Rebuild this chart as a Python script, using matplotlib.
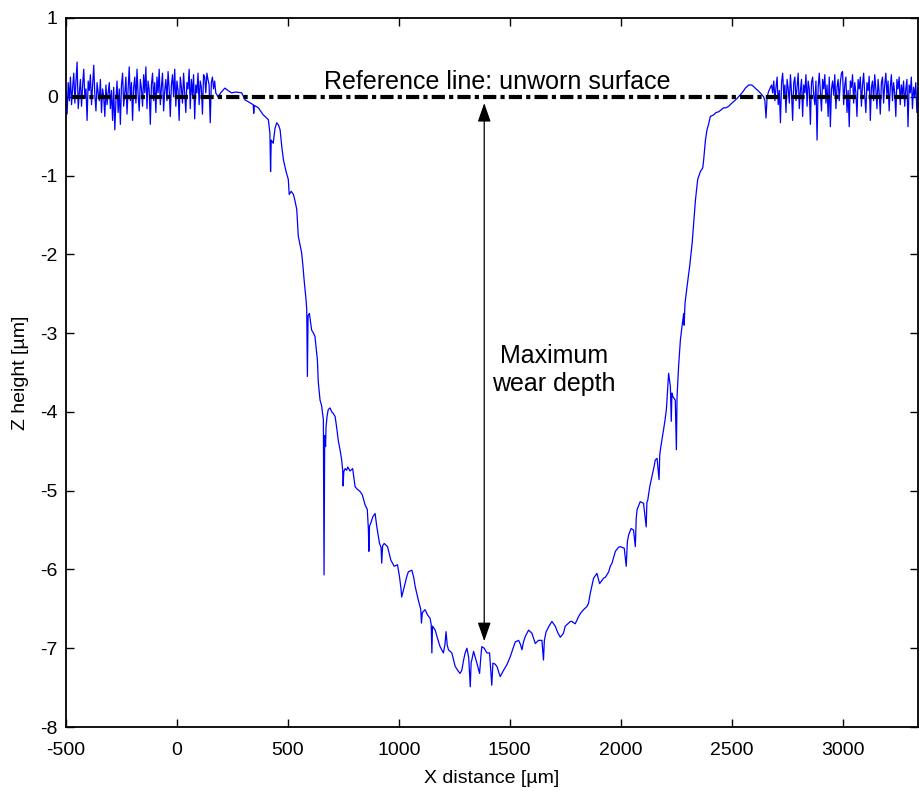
import numpy as np
import matplotlib
matplotlib.use("Agg")
import matplotlib.pyplot as plt

plt.rcParams['font.family'] = ['Liberation Sans', 'DejaVu Sans']
plt.rcParams['axes.unicode_minus'] = False
plt.rcParams['lines.scale_dashes'] = False

# ---- data ----
left_noise_x0, left_noise_step = -500, 5
left_noise_z = [
    0.05, -0.22, 0.18, -0.05, 0.25, -0.10, 0.12, 0.30, -0.08, 0.20,
    0.44, -0.15, 0.05, 0.22, -0.12, 0.15, 0.35, -0.02, 0.10, -0.30,
    0.20, 0.08, 0.28, -0.10, 0.15, 0.40, 0.02, -0.18, 0.18, 0.05,
    -0.05, 0.22, -0.20, 0.10, 0.00, -0.25, 0.15, -0.10, 0.05, 0.18,
    -0.15, 0.08, -0.30, 0.12, -0.42, -0.05, 0.20, -0.20, 0.10, -0.35,
    0.15, 0.30, -0.12, 0.05, 0.25, -0.22, 0.10, 0.38, -0.05, 0.18,
    -0.30, 0.12, 0.25, -0.08, 0.35, 0.02, -0.18, 0.22, 0.10, -0.12,
    0.28, 0.05, 0.38, -0.15, 0.20, 0.08, -0.35, 0.15, 0.30, -0.05,
    0.18, -0.20, 0.25, 0.05, 0.35, -0.10, 0.12, 0.30, -0.18, 0.08,
    0.22, -0.05, 0.32, 0.10, -0.25, 0.15, 0.28, 0.00, 0.35, -0.12,
    0.20, 0.08, -0.30, 0.25, 0.12, -0.08, 0.30, 0.05, -0.20, 0.18,
    0.10, 0.35, -0.15, 0.22, 0.02, 0.28, -0.28, 0.15, 0.05, 0.30,
    -0.10, 0.20, 0.12, -0.22, 0.28, 0.25, 0.05, 0.30, 0.22, 0.15,
    -0.33, 0.18, 0.25, 0.10, 0.20, 0.05,
]

scar_x = [
    185, 200, 216, 230, 246, 265, 292, 307, 320, 337, 344, 346, 349, 367, 389, 397,
    412, 419, 422, 425, 434, 442, 450, 458, 465, 472, 480, 492, 502, 506, 515, 525,
    532, 540, 547, 555, 562, 568, 573, 582, 585, 588, 591, 597, 607, 615, 622, 633,
    637, 645, 652, 660, 663, 666, 670, 672, 677, 682, 690, 698, 705, 713, 720, 727,
    735, 742, 747, 749, 752, 758, 765, 770, 780, 792, 803, 812, 825, 835, 848, 858,
    863, 865, 868, 874, 883, 893, 901, 913, 920, 923, 927, 934, 949, 957, 964, 979,
    994, 1003, 1010, 1013, 1021, 1028, 1036, 1043, 1059, 1067, 1074, 1088, 1099, 1102, 1106, 1118,
    1130, 1141, 1146, 1149, 1152, 1164, 1175, 1186, 1201, 1208, 1213, 1218, 1224, 1239, 1254, 1265,
    1276, 1284, 1292, 1299, 1307, 1315, 1322, 1326, 1329, 1337, 1345, 1352, 1364, 1370, 1374, 1385,
    1397, 1409, 1419, 1424, 1433, 1442, 1457, 1465, 1472, 1487, 1502, 1515, 1525, 1540, 1548, 1555,
    1562, 1570, 1585, 1600, 1615, 1630, 1645, 1652, 1656, 1664, 1677, 1690, 1705, 1716, 1728, 1742,
    1750, 1758, 1773, 1780, 1795, 1810, 1818, 1833, 1848, 1855, 1863, 1878, 1893, 1905, 1915, 1923,
    1931, 1946, 1953, 1961, 1976, 1990, 1998, 2016, 2025, 2030, 2036, 2047, 2058, 2066, 2070, 2074,
    2088, 2103, 2115, 2118, 2122, 2131, 2141, 2150, 2156, 2164, 2173, 2176, 2179, 2186, 2193, 2200,
    2206, 2212, 2216, 2220, 2224, 2228, 2231, 2236, 2246, 2251, 2254, 2257, 2261, 2266, 2269, 2277,
    2284, 2286, 2290, 2299, 2311, 2322, 2329, 2337, 2347, 2359, 2366, 2370, 2374, 2382, 2389, 2396,
    2404, 2419, 2430, 2442, 2455, 2464, 2475, 2487, 2494, 2509, 2525, 2547, 2562, 2577, 2590, 2599,
    2610, 2622, 2635, 2644, 2650, 2655, 2660, 2667, 2675,
]
scar_z = [
    0.00, 0.06, 0.11, 0.08, 0.05, 0.06, 0.05, -0.04, -0.06, -0.09, -0.10, -0.21, -0.11, -0.14, -0.23, -0.25,
    -0.29, -0.46, -0.95, -0.55, -0.59, -0.40, -0.33, -0.36, -0.42, -0.62, -0.80, -0.95, -1.05, -1.24, -1.20, -1.24,
    -1.32, -1.43, -1.77, -1.88, -1.98, -2.15, -2.32, -2.58, -2.70, -3.55, -2.78, -2.75, -2.96, -3.00, -3.04, -3.34,
    -3.62, -3.85, -3.92, -4.10, -6.07, -4.30, -4.44, -4.19, -4.05, -3.97, -3.95, -4.00, -4.02, -4.06, -4.20, -4.36,
    -4.48, -4.60, -4.74, -4.94, -4.76, -4.72, -4.74, -4.70, -4.75, -4.72, -4.95, -4.98, -5.01, -5.05, -5.18, -5.24,
    -5.50, -5.77, -5.45, -5.41, -5.33, -5.29, -5.46, -5.67, -5.72, -5.92, -5.70, -5.67, -5.71, -5.80, -5.88, -5.96,
    -5.94, -6.09, -6.25, -6.35, -6.26, -6.18, -6.09, -6.03, -6.01, -6.10, -6.22, -6.39, -6.51, -6.68, -6.55, -6.51,
    -6.58, -6.62, -6.70, -7.06, -6.72, -6.77, -6.88, -6.98, -7.06, -6.95, -6.79, -6.96, -7.02, -7.06, -7.23, -7.28,
    -7.32, -7.28, -7.15, -7.06, -7.00, -7.12, -7.49, -7.18, -7.15, -7.04, -7.12, -7.19, -7.32, -7.10, -6.98, -7.00,
    -7.06, -7.06, -7.47, -7.19, -7.20, -7.23, -7.36, -7.32, -7.28, -7.21, -7.11, -7.00, -6.92, -6.90, -6.95, -7.02,
    -6.92, -6.85, -6.77, -6.81, -6.94, -6.90, -6.90, -7.15, -6.90, -6.79, -6.72, -6.66, -6.72, -6.80, -6.86, -6.81,
    -6.72, -6.70, -6.66, -6.66, -6.69, -6.60, -6.56, -6.51, -6.47, -6.43, -6.30, -6.11, -6.05, -6.18, -6.14, -6.11,
    -6.10, -6.03, -5.96, -5.92, -5.77, -5.72, -5.71, -5.73, -5.96, -5.65, -5.56, -5.48, -5.50, -5.71, -5.35, -5.24,
    -5.14, -5.16, -5.46, -5.15, -5.12, -4.95, -4.82, -4.70, -4.61, -4.59, -4.86, -4.55, -4.48, -4.35, -4.23, -4.10,
    -3.97, -3.70, -3.51, -3.60, -3.68, -4.12, -3.76, -3.81, -3.85, -4.48, -3.81, -3.64, -3.42, -3.21, -3.09, -2.90,
    -2.75, -2.90, -2.62, -2.41, -2.15, -1.86, -1.60, -1.31, -1.05, -0.95, -0.92, -0.90, -0.80, -0.55, -0.42, -0.35,
    -0.25, -0.23, -0.20, -0.19, -0.16, -0.14, -0.14, -0.12, -0.10, -0.06, -0.02, 0.05, 0.11, 0.15, 0.15, 0.13,
    0.10, 0.07, 0.03, 0.00, -0.05, -0.27, 0.00, 0.07, 0.12,
]

right_noise_x0, right_noise_step = 2680, 5
right_noise_z = [
    0.15, 0.05, 0.20, -0.05, 0.12, 0.25, -0.10, 0.08, -0.33, 0.18,
    0.30, 0.02, 0.15, -0.20, 0.22, 0.10, -0.08, 0.28, 0.05, -0.30,
    0.18, 0.25, -0.05, 0.12, 0.30, -0.15, 0.08, 0.22, -0.25, 0.15,
    0.05, 0.28, -0.12, 0.20, 0.10, -0.35, 0.18, 0.25, 0.02, -0.10,
    0.20, -0.55, 0.12, 0.30, 0.05, -0.18, 0.22, 0.10, 0.28, -0.08,
    0.15, -0.25, 0.25, -0.38, 0.10, 0.20, 0.02, 0.28, -0.15, 0.12,
    0.22, -0.05, 0.18, 0.30, 0.32, -0.10, 0.15, 0.25, -0.20, 0.08,
    -0.38, 0.20, 0.12, 0.28, -0.08, 0.18, 0.05, -0.25, 0.22, 0.10,
    0.25, -0.12, 0.15, 0.30, 0.02, -0.20, 0.18, 0.08, 0.26, -0.30,
    0.12, 0.20, -0.05, 0.28, 0.10, -0.15, 0.22, 0.05, -0.22, 0.18,
    0.25, -0.08, 0.15, 0.30, 0.02, 0.20, -0.18, 0.12, 0.28, -0.05,
    0.18, 0.05, -0.25, 0.22, 0.10, 0.25, -0.10, 0.15, 0.02, 0.20,
    -0.12, 0.10, 0.22, -0.38, 0.15, 0.05, 0.25, -0.15, 0.12, 0.00,
    0.18, -0.20, 0.10,
]

ref_line_x = [-475, 3300]
ref_line_z = [0, 0]
arrow_x = 1385
arrow_top, arrow_bottom = -0.08, -6.91

x_ticks = [-500, 0, 500, 1000, 1500, 2000, 2500, 3000]
y_ticks = [1, 0, -1, -2, -3, -4, -5, -6, -7, -8]

# ---- assemble profile ----
lx = left_noise_x0 + left_noise_step * np.arange(len(left_noise_z))
rx = right_noise_x0 + right_noise_step * np.arange(len(right_noise_z))
x = np.concatenate([lx, scar_x, rx])
z = np.concatenate([left_noise_z, scar_z, right_noise_z])

fig = plt.figure(figsize=(9.2, 7.91), dpi=100)
ax = fig.add_axes([66 / 920, 1 - 727 / 791, (918 - 66) / 920, (727 - 18) / 791])

ax.plot(x, z, color=(0, 0, 1), lw=0.9, zorder=2)
ax.plot(ref_line_x, ref_line_z, color='black', lw=3.0, zorder=3,
        linestyle=(0, (9.5, 3.0, 3.0, 3.0)))

ax.annotate('', xy=(arrow_x, arrow_bottom), xytext=(arrow_x, arrow_top),
            arrowprops=dict(arrowstyle='<|-|>,head_length=1.15,head_width=0.4',
                            color='black', lw=0.9, shrinkA=0, shrinkB=0), zorder=4)

ax.text(1445, 0.03, 'Reference line: unworn surface', ha='center', va='bottom',
        fontsize=18, color='black')
ax.text(1700, -3.47, 'Maximum\nwear depth', ha='center', va='center',
        fontsize=18, color='black', linespacing=1.2)

ax.set_xlim(-500, 3340)
ax.set_ylim(-8, 1)
ax.set_xticks(x_ticks)
ax.set_yticks(y_ticks)
ax.set_xticklabels([str(t) for t in x_ticks])
ax.set_yticklabels([str(t) for t in y_ticks])
ax.tick_params(direction='in', length=6, width=1.0, labelsize=14,
               top=True, right=True)
ax.tick_params(axis='x', pad=11)
ax.tick_params(axis='y', pad=6)
for s in ax.spines.values():
    s.set_linewidth(1.3)

ax.set_xlabel('X distance [µm]', fontsize=14, labelpad=8)
ax.set_ylabel('Z height [µm]', fontsize=14, labelpad=8)

fig.savefig('out.png', dpi=100)
